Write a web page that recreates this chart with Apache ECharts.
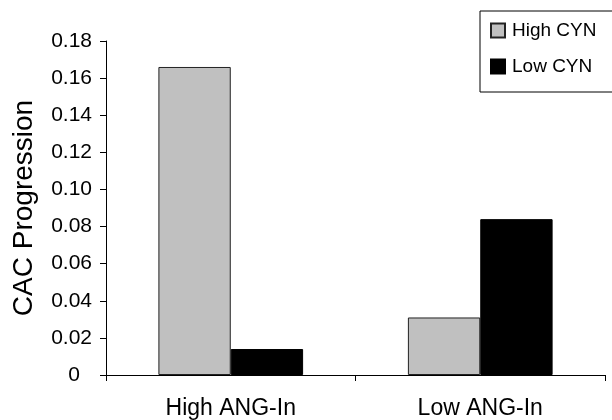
<!DOCTYPE html>
<html>
<head>
<meta charset="utf-8">
<script src="https://cdn.jsdelivr.net/npm/echarts@6/dist/echarts.min.js"></script>
<style>html,body{margin:0;padding:0;background:#fff}#c{width:612px;height:420px}</style>
</head>
<body>
<div id="c"></div>
<script>
const categories = ['High ANG-In', 'Low ANG-In'];
const seriesNames = ['High CYN', 'Low CYN'];
const highCYN = [0.166, 0.031];
const lowCYN = [0.014, 0.084];
const yTicks = ['0', '0.02', '0.04', '0.06', '0.08', '0.10', '0.12', '0.14', '0.16', '0.18'];

const font = 'Liberation Sans, Arial, sans-serif';
const chart = echarts.init(document.getElementById('c'), null, {renderer: 'canvas'});
chart.setOption({
  animation: false,
  backgroundColor: '#fff',
  textStyle: {fontFamily: font, color: '#000'},
  grid: {left: 106, right: 7, top: 41, bottom: 44},
  legend: {
    orient: 'vertical',
    left: 480, top: 11,
    padding: [10, 40, 16, 10],
    itemWidth: 14, itemHeight: 14, itemGap: 17,
    icon: 'rect',
    borderColor: '#000', borderWidth: 1,
    textStyle: {fontFamily: font, fontSize: 19, color: '#000', padding: [0, 0, 0, 2]},
    data: seriesNames
  },
  xAxis: {
    type: 'category',
    data: categories,
    axisLine: {lineStyle: {color: '#000', width: 1}},
    axisTick: {show: true, length: 6, lineStyle: {color: '#000'}},
    axisLabel: {fontFamily: font, fontSize: 23, color: '#000', margin: 22}
  },
  yAxis: {
    type: 'value',
    min: 0, max: 0.18, interval: 0.02,
    name: 'CAC Progression',
    nameLocation: 'middle',
    nameGap: 68,
    nameTextStyle: {fontFamily: font, fontSize: 28, color: '#000'},
    splitLine: {show: false},
    axisLine: {show: true, lineStyle: {color: '#000', width: 1}},
    axisTick: {show: true, length: 6, lineStyle: {color: '#000'}},
    axisLabel: {
      fontFamily: font, fontSize: 21, color: '#000', margin: 14,
      rich: {z: {fontFamily: font, fontSize: 21, color: '#000', padding: [0, 12, 0, 0]}},
      formatter: function (v) {
        const s = yTicks[Math.round(v / 0.02)];
        return v === 0 ? '{z|' + s + '}' : s;
      }
    }
  },
  series: [
    {name: seriesNames[0], type: 'bar', data: highCYN, barGap: '0%', barCategoryGap: '42%',
     itemStyle: {color: '#c0c0c0', borderColor: '#222', borderWidth: 1}},
    {name: seriesNames[1], type: 'bar', data: lowCYN, barGap: '0%', barCategoryGap: '42%',
     itemStyle: {color: '#000', borderColor: '#000', borderWidth: 1}}
  ]
});
</script>
</body>
</html>
